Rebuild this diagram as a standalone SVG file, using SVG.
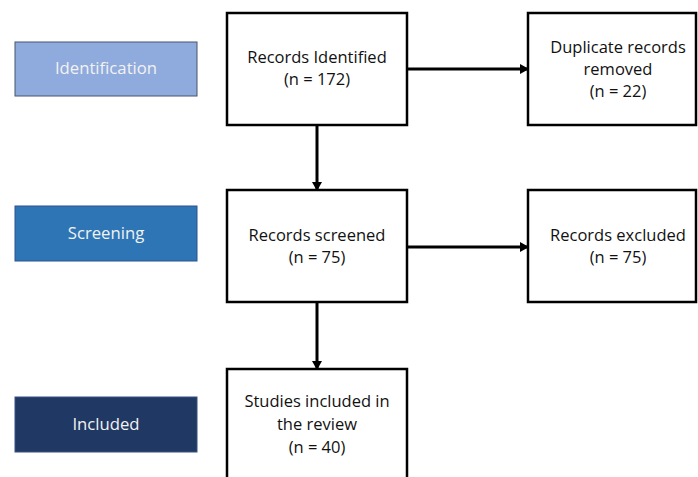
<svg xmlns="http://www.w3.org/2000/svg" width="698" height="477" viewBox="0 0 698 477">
<defs>
<style>
.box{fill:#fff;stroke:#000;stroke-width:2.5}
.t{font-family:"Open Sans","Noto Sans",sans-serif;font-size:16.5px;fill:#111;text-anchor:middle}
.lbl{font-family:"Open Sans","Noto Sans",sans-serif;font-size:16.7px;fill:#f2f2f2;text-anchor:middle}
.con{stroke:#000;stroke-width:3;fill:none}
</style>
<marker id="ah" markerWidth="10" markerHeight="10" refX="8" refY="5" orient="auto" markerUnits="userSpaceOnUse">
<path d="M0,0 L9,5 L0,10 Z" fill="#000"/>
</marker>
</defs>
<rect width="698" height="477" fill="#fff"/>
<g id="stage-identification">
<rect x="15" y="42" width="182" height="54" fill="#8faadc" stroke="#44546a" stroke-width="1"/>
<text class="lbl" x="106" y="74">Identification</text>
</g>
<g id="stage-screening">
<rect x="15" y="206" width="182" height="55" fill="#2e75b6" stroke="#2f528f" stroke-width="1"/>
<text class="lbl" x="106" y="239">Screening</text>
</g>
<g id="stage-included">
<rect x="15" y="397" width="182" height="55" fill="#203864" stroke="#3a5080" stroke-width="1"/>
<text class="lbl" x="106" y="430">Included</text>
</g>
<g id="records-identified">
<rect class="box" x="227" y="13" width="180" height="112"/>
<text class="t" x="317" y="63">Records Identified</text>
<text class="t" x="317" y="85">(n = 172)</text>
</g>
<g id="duplicates-removed">
<rect class="box" x="528" y="13" width="168" height="112"/>
<text class="t" x="618" y="53">Duplicate records</text>
<text class="t" x="618" y="75">removed</text>
<text class="t" x="618" y="97">(n = 22)</text>
</g>
<g id="records-screened">
<rect class="box" x="227" y="190" width="180" height="112"/>
<text class="t" x="317" y="241">Records screened</text>
<text class="t" x="317" y="263">(n = 75)</text>
</g>
<g id="records-excluded">
<rect class="box" x="528" y="190" width="168" height="112"/>
<text class="t" x="618" y="241">Records excluded</text>
<text class="t" x="618" y="263">(n = 75)</text>
</g>
<g id="studies-included">
<rect class="box" x="227" y="369" width="180" height="120"/>
<text class="t" x="317" y="407">Studies included in</text>
<text class="t" x="317" y="430">the review</text>
<text class="t" x="317" y="453">(n = 40)</text>
</g>
<g id="connectors">
<line class="con" x1="407" y1="69" x2="528" y2="69" marker-end="url(#ah)"/>
<line class="con" x1="317" y1="125" x2="317" y2="190" marker-end="url(#ah)"/>
<line class="con" x1="407" y1="247" x2="528" y2="247" marker-end="url(#ah)"/>
<line class="con" x1="317" y1="302" x2="317" y2="369" marker-end="url(#ah)"/>
</g>
</svg>
